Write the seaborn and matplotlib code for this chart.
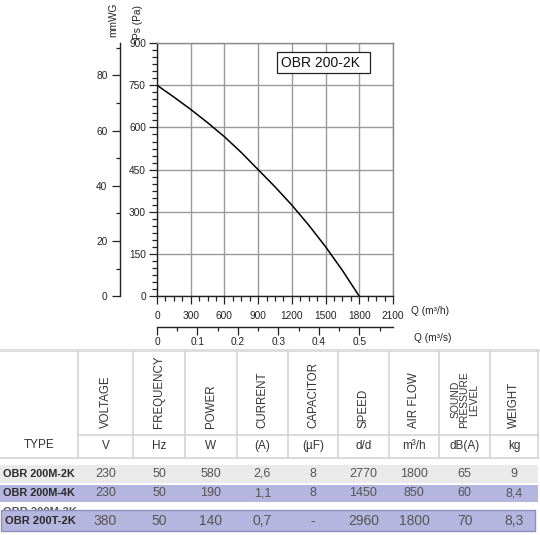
import numpy as np
import pandas as pd
import matplotlib
matplotlib.use("Agg")
import matplotlib.pyplot as plt
from matplotlib.patches import Rectangle
import seaborn as sns

# ---- data ----
q_m3h = [0, 150, 300, 450, 600, 750, 900, 1050, 1200, 1350, 1500, 1650, 1800]
ps_pa = [750, 708, 664, 617, 567, 511, 450, 389, 324, 253, 176, 92, 0]
pa_ticks = [0, 150, 300, 450, 600, 750, 900]
q_ticks = [0, 300, 600, 900, 1200, 1500, 1800, 2100]
mmwg_ticks = [0, 20, 40, 60, 80]
qs_ticks = [0, 0.1, 0.2, 0.3, 0.4, 0.5]
qs_labels = ["0", "0.1", "0.2", "0.3", "0.4", "0.5"]
model_label = "OBR 200-2K"

headers = ["VOLTAGE", "FREQUENCY", "POWER", "CURRENT", "CAPACITOR", "SPEED",
           "AIR FLOW", "SOUND\nPRESSURE\nLEVEL", "WEIGHT"]
units = ["V", "Hz", "W", "(A)", "(µF)", "d/d", "m³/h", "dB(A)", "kg"]
types = ["OBR 200M-2K", "OBR 200M-4K", "OBR 200T-2K"]
voltage = ["230", "230", "380"]
frequency = ["50", "50", "50"]
power = ["580", "190", "140"]
current = ["2,6", "1,1", "0,7"]
capacitor = ["8", "8", "-"]
speed = ["2770", "1450", "2960"]
airflow = ["1800", "850", "1800"]
sound = ["65", "60", "70"]
weight = ["9", "8,4", "8,3"]

sns.set_style("white")
plt.rcParams["font.family"] = ["Liberation Sans", "DejaVu Sans"]

W, H = 540, 535
fig = plt.figure(figsize=(W / 100, H / 100), dpi=100)

def fx(px):
    return px / W

def fy(py):
    return (H - py) / H

x0, x1 = 157, 393
y_top, y_bot = 43, 296.3
ax = fig.add_axes([fx(x0), fy(y_bot), fx(x1) - fx(x0), fy(y_top) - fy(y_bot)])
df = pd.DataFrame({"Q": q_m3h, "Ps": ps_pa})
sns.lineplot(data=df, x="Q", y="Ps", color="black", lw=1.1, ax=ax)
ax.set_xlim(0, 2100)
ax.set_ylim(0, 900)
ax.set_xticks(q_ticks)
ax.set_xticks(np.arange(0, 2101, 75), minor=True)
ax.set_yticks(pa_ticks)
ax.set_yticks(np.arange(0, 901, 25), minor=True)
ax.set_xticklabels([str(v) for v in q_ticks])
ax.set_yticklabels([str(v) for v in pa_ticks])
ax.grid(True, which="major", color="#9a9a9a", lw=1.0)
ax.set_axisbelow(True)
ax.set_xlabel("")
ax.set_ylabel("")
for s in ["left", "bottom"]:
    ax.spines[s].set_color("#222222")
    ax.spines[s].set_linewidth(1.0)
for s in ["top", "right"]:
    ax.spines[s].set_color("#8a8a8a")
    ax.spines[s].set_linewidth(1.0)
ax.tick_params(axis="both", which="major", direction="out", length=5.5, width=0.9,
               color="#222222", labelsize=7.3, labelcolor="#222222", pad=2.5)
ax.tick_params(axis="both", which="minor", direction="out", length=3.5, width=0.9,
               color="#222222")
ax.tick_params(axis="x", which="major", pad=5)
ax.tick_params(left=True, bottom=True, which="both")

# model label box
ax.add_patch(Rectangle((1068, 793), 827, 74, facecolor="white", edgecolor="#222222",
                       lw=0.9, zorder=5))
ax.text(1100, 830, model_label, fontsize=10, va="center", ha="left", zorder=6,
        color="#111111")

# mmWG axis
axw = fig.add_axes([fx(120), fy(y_bot), 0.002, fy(y_top) - fy(y_bot)])
axw.set_ylim(0, 900 / 9.80665)
axw.set_yticks(mmwg_ticks)
axw.set_yticks([10, 30, 50, 70, 90], minor=True)
axw.set_yticklabels([str(v) for v in mmwg_ticks])
axw.set_xticks([])
for s in ["top", "right", "bottom"]:
    axw.spines[s].set_visible(False)
axw.spines["left"].set_color("#222222")
axw.spines["left"].set_linewidth(1.0)
axw.tick_params(axis="y", which="major", direction="out", length=6, width=0.9,
                color="#222222", labelsize=7.3, labelcolor="#222222", pad=3, left=True)
axw.tick_params(axis="y", which="minor", direction="out", length=3, width=0.9,
                color="#222222", left=True)
axw.patch.set_alpha(0)

# Q (m3/s) axis
axq = fig.add_axes([fx(x0), fy(327), fx(x1) - fx(x0), 0.001])
axq.set_xlim(0, 2100 / 3600)
axq.set_xticks(qs_ticks)
axq.set_xticks([0.05, 0.15, 0.25, 0.35, 0.45, 0.55], minor=True)
axq.set_xticklabels(qs_labels)
axq.set_yticks([])
for s in ["top", "right", "left"]:
    axq.spines[s].set_visible(False)
axq.spines["bottom"].set_color("#222222")
axq.spines["bottom"].set_linewidth(1.0)
axq.tick_params(axis="x", which="major", direction="out", length=6, width=0.9,
                color="#222222", labelsize=7.3, labelcolor="#222222", pad=1.5, bottom=True)
axq.tick_params(axis="x", which="minor", direction="out", length=3, width=0.9,
                color="#222222", bottom=True)
axq.patch.set_alpha(0)

# axis captions
fig.text(fx(113), fy(20), "mmWG", rotation=90, fontsize=7.3, ha="center", va="center",
         color="#222222")
fig.text(fx(138), fy(22), "Ps (Pa)", rotation=90, fontsize=7.3, ha="center", va="center",
         color="#222222")
fig.text(fx(411), fy(311), "Q (m³/h)", fontsize=7.3, ha="left", va="center", color="#222222")
fig.text(fx(414), fy(338), "Q (m³/s)", fontsize=7.3, ha="left", va="center", color="#222222")

# ---- table ----
axt = fig.add_axes([0, 0, 1, 1], zorder=-1)
axt.set_xlim(0, W)
axt.set_ylim(H, 0)
axt.axis("off")

col_edges = [0, 78, 133, 185, 237, 288, 338, 389, 439, 490, 538]
centers = [(col_edges[i] + col_edges[i + 1]) / 2 for i in range(len(col_edges) - 1)]
line_c = "#d4d4d4"
axt.plot([0, 538], [350, 350], color="#dcdcdc", lw=2)
for xe in col_edges[1:]:
    axt.plot([xe, xe], [350, 458], color=line_c, lw=1.2)
axt.plot([78, 538], [435, 435], color=line_c, lw=1.2)
axt.plot([0, 538], [458, 458], color=line_c, lw=1.2)

for i, h in enumerate(headers):
    axt.text(centers[i + 1], 428, h, rotation=90, ha="center", va="bottom",
             fontsize=8.3 if "\n" not in h else 7.5, color="#333333", linespacing=0.9)
axt.text(centers[0], 445, "TYPE", ha="center", va="center", fontsize=8.5, color="#333333")
for i, u in enumerate(units):
    axt.text(centers[i + 1], 446, u, ha="center", va="center", fontsize=8.5, color="#333333")

cols = [voltage, frequency, power, current, capacitor, speed, airflow, sound, weight]
rows_y = [474, 493, 521]
bands = [(465, 18, "#eaeaea", "none"), (485, 17, "#b4b6df", "none"),
         (510, 21, "#b4b6df", "#8c8fbf")]
for (yb, hb, fc, ec) in bands[:2]:
    axt.add_patch(Rectangle((0, yb), 538, hb, facecolor=fc, edgecolor=ec, lw=0, zorder=1))
# ghost row partly hidden
axt.text(3, 512, "OBR 200M-2K", ha="left", va="center", fontsize=8, color="#555555",
         weight="bold", zorder=1)
yb, hb, fc, ec = bands[2]
axt.add_patch(Rectangle((1, yb), 534, hb, facecolor=fc, edgecolor=ec, lw=1, zorder=3))

type_sizes = [7.8, 7.8, 8.0]
val_sizes = [9.0, 9.0, 10.0]
for r in range(3):
    axt.text(3 if r < 2 else 5, rows_y[r], types[r], ha="left", va="center",
             fontsize=type_sizes[r], color="#2a2a2a", weight="bold", zorder=4)
    for c in range(9):
        axt.text(centers[c + 1], rows_y[r], cols[c][r], ha="center", va="center",
                 fontsize=val_sizes[r], color="#555555", zorder=4)

fig.savefig("out.png", dpi=100)
